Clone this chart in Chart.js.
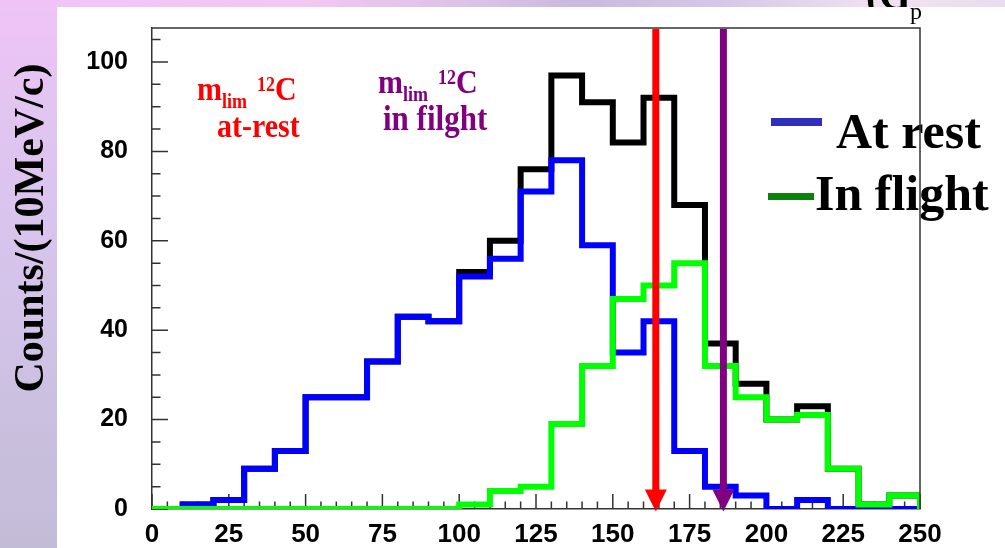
<!DOCTYPE html>
<html>
<head>
<meta charset="utf-8">
<script src="https://cdn.jsdelivr.net/npm/chart.js@4.4.1/dist/chart.umd.min.js"></script>
<style>
  html, body { margin: 0; padding: 0; width: 1005px; height: 548px; overflow: hidden; }
  body {
    position: relative;
    background: linear-gradient(180deg, #efc3f6 0%, #dfc5f0 25%, #d3c3e9 55%, #c9bfdd 80%, #c3bcd7 100%);
  }
  #topband {
    position: absolute; left: 0; top: 0; width: 1005px; height: 7px;
    background: linear-gradient(90deg, #efc3f6 0%, #f3c7f3 30%, #d9c2e6 48%, #c9b9dc 58%, #d7c7e7 72%, #f2e2f1 88%, #eadcee 100%);
  }
  #panel { position: absolute; left: 57px; top: 7px; width: 948px; height: 541px; background: #ffffff; }
  #wrap { position: absolute; left: 0; top: 0; width: 1005px; height: 548px; }
</style>
</head>
<body>
<div id="topband"></div>
<div id="panel"></div>
<div id="wrap"><canvas id="chart" width="1005" height="548"></canvas></div>
<script>
// Histogram bins: 10 MeV/c wide, 0 .. 250 MeV/c
const binEdges = [0, 10, 20, 30, 40, 50, 60, 70, 80, 90, 100, 110, 120, 130, 140, 150, 160, 170, 180, 190, 200, 210, 220, 230, 240, 250];

// Counts per bin
const totalCounts    = [0, 1, 2, 9, 13, 25, 25, 33, 43, 42, 53, 60, 76, 97, 91, 82, 92, 68, 37, 28, 20, 23, 9, 1, 3];
const atRestCounts   = [0, 1, 2, 9, 13, 25, 25, 33, 43, 42, 52, 56, 71, 78, 59, 35, 42, 13, 5, 3, 0, 2, 0, 0, 0];
const inFlightCounts = [0, 0, 0, 0, 0, 0, 0, 0, 0, 0, 1, 4, 5, 19, 32, 47, 50, 55, 32, 25, 20, 21, 9, 1, 3];

// Limiting momenta for 12C (MeV/c)
const limitMomenta = [164, 186];
const limitColors  = ['#ff0000', '#800080'];

// Axis ticks
const xMajorTicks = [0, 25, 50, 75, 100, 125, 150, 175, 200, 225, 250];
const xMinorTicks = [5, 10, 15, 20, 30, 35, 40, 45, 55, 60, 65, 70, 80, 85, 90, 95, 105, 110, 115, 120, 130, 135, 140, 145, 155, 160, 165, 170, 180, 185, 190, 195, 205, 210, 215, 220, 230, 235, 240, 245];
const yMajorTicks = [0, 20, 40, 60, 80, 100];
const yMinorTicks = [5, 10, 15, 25, 30, 35, 45, 50, 55, 65, 70, 75, 85, 90, 95, 105];
const yMax = 107.6;

const yTitle = 'Counts/(10MeV/c)';
const legendLabels = ['At rest', 'In flight'];
const legendColors = ['#2f2fbd', '#0b800b'];

// One point per lower bin edge (held across the bin), then a drop to zero at the last edge
function histSteps(counts) {
  const pts = counts.map((v, i) => ({ x: binEdges[i], y: v }));
  pts.push({ x: binEdges[binEdges.length - 1], y: 0 });
  return pts;
}

const SERIF = '"Liberation Serif", "DejaVu Serif", serif';
const SANS = '"Liberation Sans", Arial, sans-serif';

// Inner tick marks on both axes
const tickMarks = {
  id: 'tickMarks',
  beforeDatasetsDraw(chart) {
    const { ctx, chartArea: a, scales: { x, y } } = chart;
    ctx.save();
    ctx.strokeStyle = '#333';
    ctx.lineWidth = 1.5;
    ctx.beginPath();
    const yb = y.getPixelForValue(0);
    xMajorTicks.forEach(v => { const px = x.getPixelForValue(v); ctx.moveTo(px, yb); ctx.lineTo(px, yb - 15); });
    xMinorTicks.forEach(v => { const px = x.getPixelForValue(v); ctx.moveTo(px, yb); ctx.lineTo(px, yb - 7.5); });
    yMajorTicks.forEach(v => { const py = y.getPixelForValue(v); ctx.moveTo(a.left, py); ctx.lineTo(a.left + 16, py); });
    yMinorTicks.forEach(v => { const py = y.getPixelForValue(v); ctx.moveTo(a.left, py); ctx.lineTo(a.left + 8.5, py); });
    ctx.stroke();
    ctx.restore();
  }
};

function drawLimLabel(ctx, x0, base, color) {
  ctx.save();
  ctx.fillStyle = color;
  ctx.textBaseline = 'alphabetic';
  ctx.textAlign = 'left';
  ctx.translate(x0, base);
  ctx.scale(1, 1.15);
  ctx.font = 'bold 30px ' + SERIF;
  ctx.fillText('m', 0, 0);
  let w = ctx.measureText('m').width;
  ctx.font = 'bold 18px ' + SERIF;
  ctx.fillText('lim', w, 7);
  w += ctx.measureText('lim').width + 10;
  ctx.fillText('12', w, -8);
  w += ctx.measureText('12').width;
  ctx.font = 'bold 30px ' + SERIF;
  ctx.fillText('C', w, 0);
  ctx.restore();
}

function drawScaledText(ctx, text, x0, base, color, size) {
  ctx.save();
  ctx.fillStyle = color;
  ctx.textBaseline = 'alphabetic';
  ctx.textAlign = 'left';
  ctx.translate(x0, base);
  ctx.scale(1, 1.15);
  ctx.font = 'bold ' + size + 'px ' + SERIF;
  ctx.fillText(text, 0, 0);
  ctx.restore();
}

// Limit arrows, frame, annotations, legend and axis title
const overlay = {
  id: 'overlay',
  afterDatasetsDraw(chart) {
    const { ctx, chartArea: a, scales: { x, y } } = chart;
    ctx.save();

    // arrows marking the 12C limits
    limitMomenta.forEach((p, i) => {
      const px = x.getPixelForValue(p);
      const tip = y.getPixelForValue(0) + 2.5;
      ctx.strokeStyle = limitColors[i];
      ctx.fillStyle = limitColors[i];
      ctx.lineWidth = 7;
      ctx.lineCap = 'butt';
      ctx.beginPath();
      ctx.moveTo(px, a.top + 1);
      ctx.lineTo(px, tip - 20);
      ctx.stroke();
      ctx.beginPath();
      ctx.moveTo(px - 11, tip - 22);
      ctx.lineTo(px + 11, tip - 22);
      ctx.lineTo(px, tip);
      ctx.closePath();
      ctx.fill();
    });

    // annotations
    drawLimLabel(ctx, 197, 100, limitColors[0]);
    drawScaledText(ctx, 'at-rest', 217, 137, limitColors[0], 30);
    drawLimLabel(ctx, 378, 93, limitColors[1]);
    drawScaledText(ctx, 'in filght', 383, 130, limitColors[1], 31);

    // legend
    ctx.fillStyle = legendColors[0];
    ctx.fillRect(771, 118, 51, 8);
    ctx.fillStyle = legendColors[1];
    ctx.fillRect(768, 193, 46, 7);
    ctx.fillStyle = '#000';
    ctx.font = 'bold 50px ' + SERIF;
    ctx.textBaseline = 'alphabetic';
    ctx.fillText(legendLabels[0], 836, 148);
    ctx.fillText(legendLabels[1], 815, 210);

    // top and right frame
    ctx.strokeStyle = '#333';
    ctx.lineWidth = 1.5;
    ctx.beginPath();
    ctx.moveTo(a.left, a.top);
    ctx.lineTo(a.right, a.top);
    ctx.lineTo(a.right, a.bottom);
    ctx.stroke();

    // y-axis title
    ctx.save();
    ctx.translate(43, 228);
    ctx.rotate(-Math.PI / 2);
    ctx.font = 'bold 42px ' + SERIF;
    ctx.textAlign = 'center';
    ctx.textBaseline = 'alphabetic';
    ctx.fillStyle = '#000';
    ctx.fillText(yTitle, 0, 0);
    ctx.restore();

    // slide title fragment at the top right
    ctx.save();
    ctx.beginPath();
    ctx.rect(0, 0, 1005, 7);
    ctx.clip();
    ctx.fillStyle = '#000';
    ctx.font = 'bold 40px ' + SERIF;
    ctx.fillText('(G', 866, 9);
    ctx.restore();
    ctx.fillStyle = '#000';
    ctx.font = '24px ' + SERIF;
    ctx.fillText('p', 910, 19);

    ctx.restore();
  }
};

const common = { pointRadius: 0, borderWidth: 6, stepped: 'before', fill: false, borderJoinStyle: 'miter', borderCapStyle: 'butt' };

new Chart(document.getElementById('chart'), {
  type: 'line',
  data: {
    datasets: [
      Object.assign({ label: 'Total', data: histSteps(totalCounts), borderColor: '#000000', order: 2 }, common),
      Object.assign({ label: legendLabels[0], data: histSteps(atRestCounts), borderColor: '#0000ff', order: 1 }, common),
      Object.assign({ label: legendLabels[1], data: histSteps(inFlightCounts), borderColor: '#00ff00', order: 0 }, common)
    ]
  },
  options: {
    responsive: false,
    animation: false,
    devicePixelRatio: 1,
    layout: { padding: { left: 0, right: 85, top: 28, bottom: 0 } },
    plugins: { legend: { display: false }, tooltip: { enabled: false } },
    scales: {
      x: {
        type: 'linear', min: 0, max: 250,
        grid: { display: false, drawTicks: false },
        border: { display: true, color: '#333', width: 1.5 },
        ticks: { color: '#000', padding: 10, maxRotation: 0, autoSkip: false, font: { family: SANS, weight: 'bold', size: 26 } },
        afterBuildTicks(s) { s.ticks = xMajorTicks.map(v => ({ value: v })); },
        afterFit(s) { s.height = 39; s.paddingLeft = 0; s.paddingRight = 0; }
      },
      y: {
        type: 'linear', min: 0, max: yMax,
        grid: { display: false, drawTicks: false },
        border: { display: true, color: '#333', width: 1.5 },
        ticks: { color: '#000', padding: 24, autoSkip: false, font: { family: SANS, weight: 'bold', size: 25 } },
        afterBuildTicks(s) { s.ticks = yMajorTicks.map(v => ({ value: v })); },
        afterFit(s) { s.width = 152; s.paddingTop = 0; s.paddingBottom = 0; }
      }
    }
  },
  plugins: [tickMarks, overlay]
});
</script>
</body>
</html>
